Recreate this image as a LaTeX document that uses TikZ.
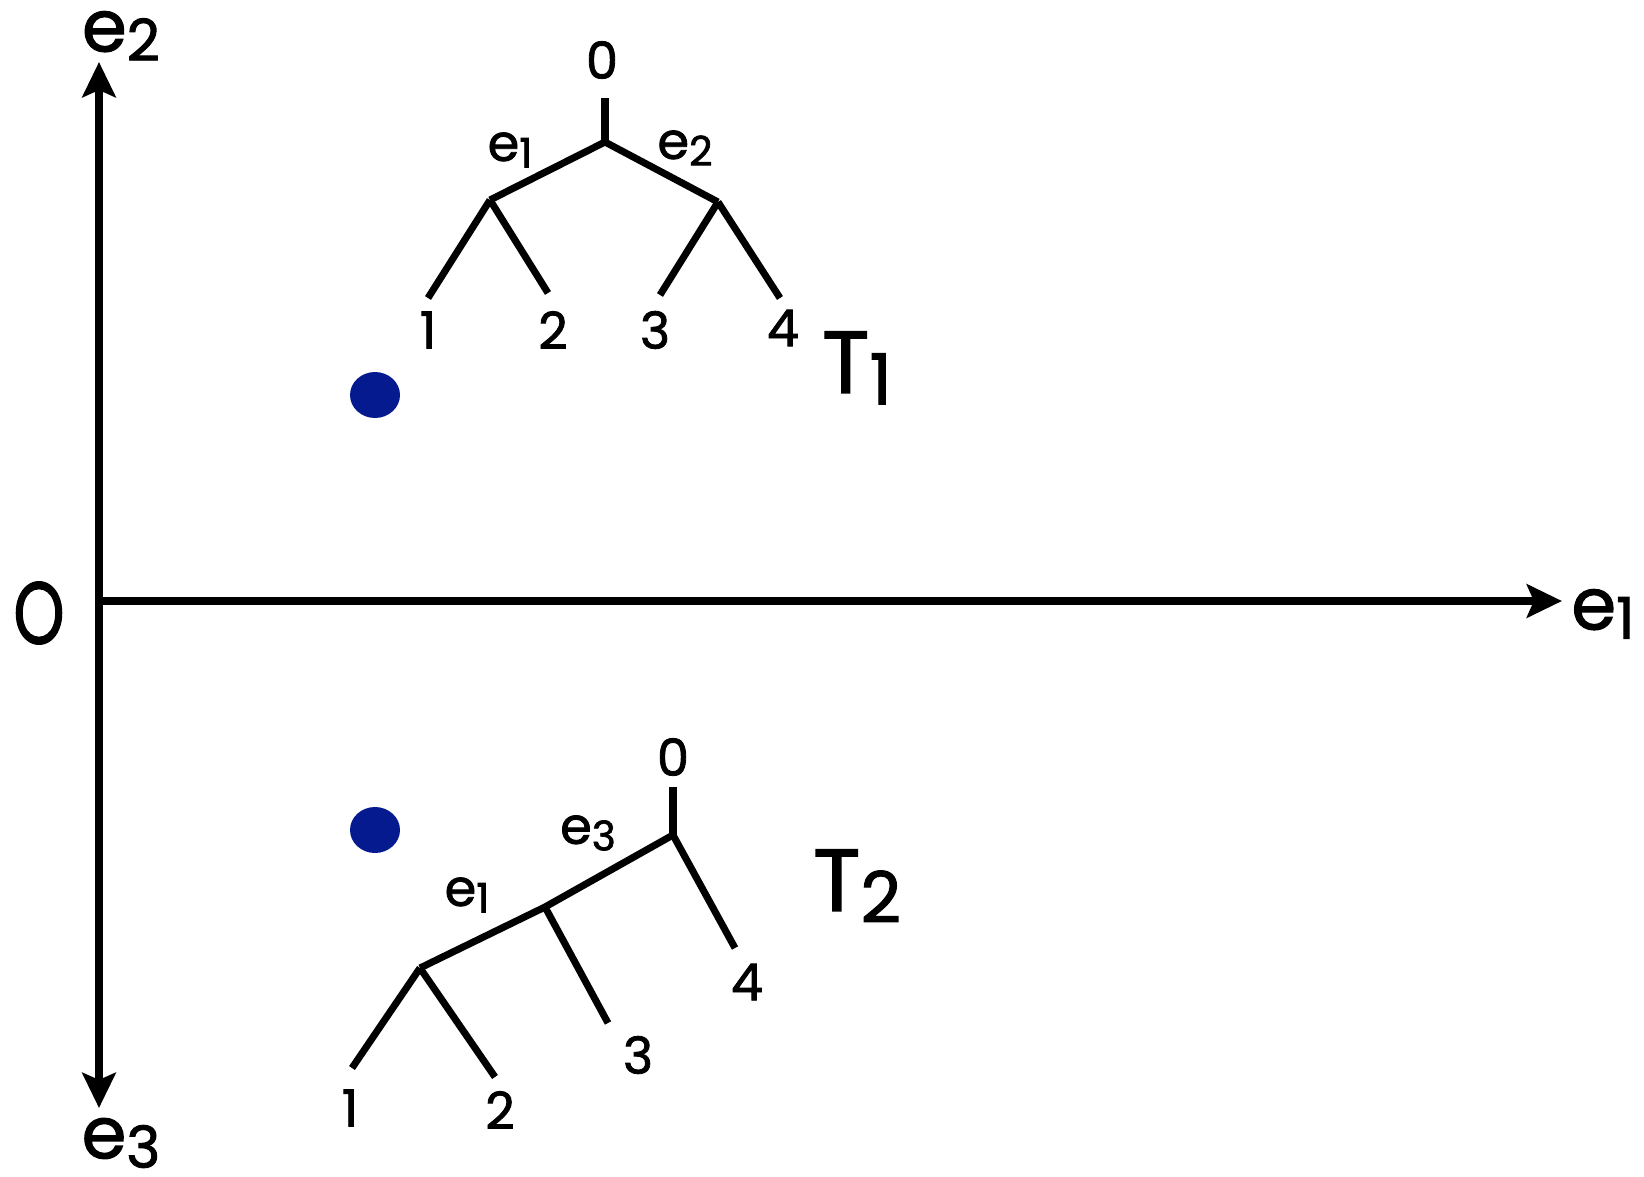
\documentclass[tikz,border=0pt]{standalone}
\usepackage{fontspec}
\setmainfont{Poppins}
\newfontfamily\lblfont{Poppins}[FakeBold=1.6]
\usetikzlibrary{arrows.meta,positioning,shapes.geometric}
\definecolor{dotblue}{RGB}{6,26,144}
\newcommand{\esub}[2]{#1\raisebox{-0.13em}{\scalebox{0.8}{#2}}}

\begin{document}
\begin{tikzpicture}[x=0.02cm, y=-0.02cm,
  axis/.style={line width=4.2pt, -{Stealth[length=20pt,width=19pt,inset=4pt]}},
  branch/.style={line width=4pt},
  biglbl/.style={font=\lblfont\fontsize{41}{44}\selectfont, inner sep=0pt},
  hugelbl/.style={font=\lblfont\fontsize{50}{54}\selectfont, inner sep=0pt},
  leaflbl/.style={font=\lblfont\fontsize{29}{31}\selectfont, inner sep=0pt},
  dot/.style={ellipse, fill=dotblue, inner sep=0pt, minimum width=1cm, minimum height=0.92cm}
]
\useasboundingbox (0,0) rectangle (1644,1177);

% axes
\coordinate (orig) at (99,601);
\coordinate (top) at (99,62);
\coordinate (bot) at (99,1108);
\coordinate (right) at (1562,601);
\draw[axis] (orig) -- (top);
\draw[axis] (orig) -- (bot);
\draw[axis] (orig) -- (right);

\node[biglbl] (ax2) at (121,36) {\esub{e}{2}};
\node[biglbl] (ax1) at (1603,614) {\esub{e}{1}};
\node[biglbl] (ax3) at (121,1143) {\esub{e}{3}};
\node[hugelbl] (zero) at (39,613) {\scalebox{0.74}[1]{O}};

% points
\node[dot] (p1) at (375,395) {};
\node[dot] (p2) at (375,830) {};

% tree T1
\coordinate (t1top) at (605,98);
\coordinate (t1r) at (605,142);
\coordinate (t1a) at (490,200);
\coordinate (t1b) at (718,202);
\coordinate (t1l1) at (428,298);
\coordinate (t1l2) at (548,293);
\coordinate (t1l3) at (660,295);
\coordinate (t1l4) at (780,298);
\draw[branch] (t1top) -- (t1r);
\draw[branch] (t1r) -- (t1a);
\draw[branch] (t1r) -- (t1b);
\draw[branch] (t1a) -- (t1l1);
\draw[branch] (t1a) -- (t1l2);
\draw[branch] (t1b) -- (t1l3);
\draw[branch] (t1b) -- (t1l4);

\node[leaflbl] (t1n0) at (602,60) {0};
\node[leaflbl] (t1e1) at (510,150) {\esub{e}{1}};
\node[leaflbl] (t1e2) at (685,148) {\esub{e}{2}};
\node[leaflbl] (t1n1) at (428,330) {1};
\node[leaflbl] (t1n2) at (553,330) {2};
\node[leaflbl] (t1n3) at (655,330) {3};
\node[leaflbl] (t1n4) at (783,328) {4};
\node[hugelbl] (T1) at (857,368) {\esub{T}{1}};

% tree T2
\coordinate (t2top) at (673,787);
\coordinate (t2r) at (673,835);
\coordinate (t2m) at (545,907);
\coordinate (t2a) at (420,968);
\coordinate (t2l1) at (352,1068);
\coordinate (t2l2) at (495,1077);
\coordinate (t2l3) at (608,1023);
\coordinate (t2l4) at (735,948);
\draw[branch] (t2top) -- (t2r);
\draw[branch] (t2r) -- (t2m);
\draw[branch] (t2m) -- (t2a);
\draw[branch] (t2r) -- (t2l4);
\draw[branch] (t2m) -- (t2l3);
\draw[branch] (t2a) -- (t2l1);
\draw[branch] (t2a) -- (t2l2);

\node[leaflbl] (t2n0) at (673,757) {0};
\node[leaflbl] (t2e3) at (588,833) {\esub{e}{3}};
\node[leaflbl] (t2e1) at (467,895) {\esub{e}{1}};
\node[leaflbl] (t2n1) at (350,1108) {1};
\node[leaflbl] (t2n2) at (500,1110) {2};
\node[leaflbl] (t2n3) at (638,1055) {3};
\node[leaflbl] (t2n4) at (747,982) {4};
\node[hugelbl] (T2) at (857,886) {\esub{T}{2}};
\end{tikzpicture}
\end{document}
